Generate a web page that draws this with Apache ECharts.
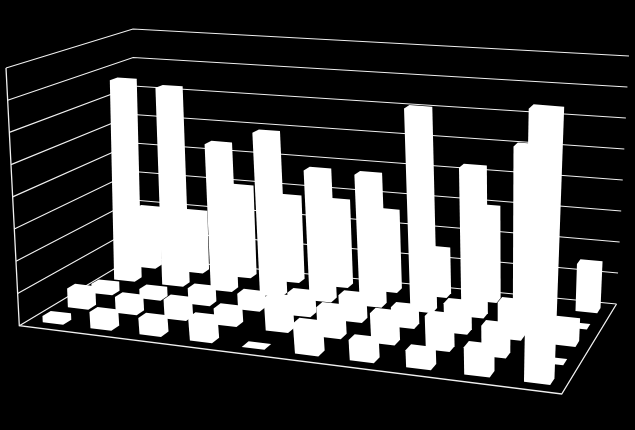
<!DOCTYPE html>
<html><head><meta charset="utf-8">
<style>html,body{margin:0;padding:0;background:#000}#c{width:635px;height:430px}</style>
<script src="https://cdn.jsdelivr.net/npm/echarts@6/dist/echarts.min.js"></script>
</head><body><div id="c"></div>
<script>
// values per depth row, front to back, ten columns each
const row0 = [2, 5, 5, 7, 0, 9, 6, 5, 8, 79.5];
const row1 = [6, 5, 6, 5, 10, 9, 9, 10, 9, 0];
const row2 = [3, 3, 5, 5, 7, 8, 6, 9, 11, 7];
const row3 = [67, 65.5, 48, 53, 42, 42, 64.5, 47, 55, 0];
const row4 = [20, 20, 30, 28, 28, 26, 15, 30, 30, 15];
const rows = [row0, row1, row2, row3, row4];
const gridTicks = [0, 10, 20, 30, 40, 50, 60, 70, 80];

// perspective frame of the box
const floorQuad = [[19.3, 325.7], [561.7, 394], [616.5, 304], [134, 257]];
const topQuad = [[6, 68], [574, 116], [629, 56], [133, 29]];
const barW = 0.43, barD = 0.33, barShift = 0.03;

function homography(q) {
  const [[x0,y0],[x1,y1],[x2,y2],[x3,y3]] = q;
  const dx1=x1-x2, dx2=x3-x2, sx=x0-x1+x2-x3, dy1=y1-y2, dy2=y3-y2, sy=y0-y1+y2-y3;
  const den=dx1*dy2-dx2*dy1;
  const g=(sx*dy2-dx2*sy)/den, h=(dx1*sy-sx*dy1)/den;
  const a=x1-x0+g*x1, b=x3-x0+h*x3, d=y1-y0+g*y1, e=y3-y0+h*y3;
  return (u,v)=>{const k=g*u+h*v+1;return [(a*u+b*v+x0)/k,(d*u+e*v+y0)/k];};
}
const floorH = homography(floorQuad), topH = homography(topQuad);
function project(u, v, w) {
  const a = floorH(u, v), b = topH(u, v);
  return [a[0] + (b[0]-a[0])*w, a[1] + (b[1]-a[1])*w];
}
function norm(cs, p) { return [(p[0]-cs.x)/cs.width, (cs.y+cs.height-p[1])/cs.height]; }
const warp = (u, v) => u + Math.min(0.02 + 0.14*v, 0.115)*u*(1-u);

function renderBar(params, api) {
  const cs = params.coordSys;
  const c = api.value(0), r = api.value(1), val = api.value(2);
  const a = norm(cs, api.coord([c + 0.5 + barShift - barW/2, val]));
  const b = norm(cs, api.coord([c + 0.5 + barShift + barW/2, 0]));
  const vc = (r + 0.5)/rows.length;
  const u0 = warp(a[0], vc), u1 = warp(b[0], vc), w = a[1];
  const v0 = (r + 0.5 - barD/2)/rows.length, v1 = (r + 0.5 + barD/2)/rows.length;
  return {type:'polygon', silent:true, shape:{points:[
    project(u0,v0,0),project(u1,v0,0),project(u1,v1,0),
    project(u1,v1,w),project(u0,v1,w),project(u0,v0,w)]},
    style:{fill:'#fff'}};
}
function renderGrid(params, api) {
  const cs = params.coordSys;
  const w = norm(cs, api.coord([0, api.value(0)]))[1];
  return {type:'polyline', shape:{points:[project(0,0,w),project(0,1,w),project(1,1,w)]},
    style:{fill:'none', stroke:'#f0f0f0', lineWidth:1.2}, silent:true};
}
function renderFrame(params, api) {
  const cs = params.coordSys;
  const w = norm(cs, api.coord([0, api.value(0)]))[1];
  return {type:'polyline', shape:{points:[project(0,0,w),project(0,0,0),project(1,0,0),project(1,1,0)]},
    style:{fill:'none', stroke:'#f0f0f0', lineWidth:1.3}, silent:true};
}
const barData = [];
for (let r = rows.length - 1; r >= 0; r--) rows[r].forEach((v, c) => barData.push([c, r, v]));

const chart = echarts.init(document.getElementById('c'), null, {renderer:'canvas'});
chart.setOption({
  animation:false, backgroundColor:'#000',
  grid:{left:0, right:0, top:0, bottom:0},
  xAxis:{type:'value', min:0, max:10, show:false},
  yAxis:{type:'value', min:0, max:80, interval:10, show:false},
  series:[
    {type:'custom', renderItem:renderGrid, data:gridTicks.map(t=>[t]), clip:false, z:1},
    {type:'custom', renderItem:renderFrame, data:[[gridTicks[gridTicks.length-1]]], clip:false, z:1},
    {type:'custom', renderItem:renderBar, data:barData, clip:false, z:2}
  ]
});
</script></body></html>
